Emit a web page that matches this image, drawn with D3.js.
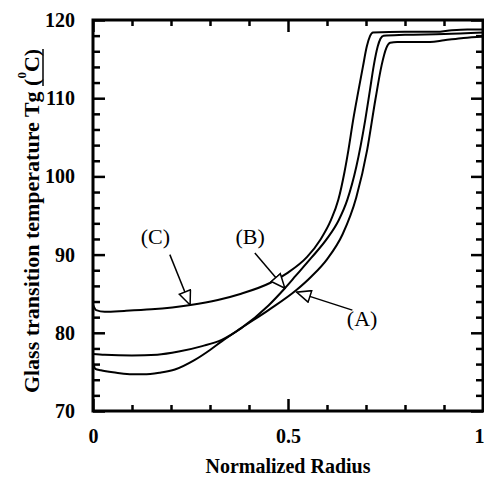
<!DOCTYPE html>
<html>
<head>
<meta charset="utf-8">
<script src="https://cdn.jsdelivr.net/npm/d3@7"></script>
<style>
  body { margin: 0; background: #fff; }
  text { font-family: "Liberation Serif", "Times New Roman", serif; font-weight: bold; }
</style>
</head>
<body>
<div id="chart"></div>
<script>
// curve (A)
var radiusA = [0, 0.006, 0.02, 0.06, 0.1, 0.13, 0.17, 0.21, 0.26, 0.3, 0.33, 0.38, 0.45, 0.52, 0.56, 0.6, 0.64, 0.675, 0.703, 0.724, 0.74, 0.752, 0.762, 0.78, 0.864, 0.9, 0.95, 1.0];
var tgA = [76.2, 75.4, 75.2, 74.9, 74.7, 74.7, 74.9, 75.3, 76.5, 77.8, 78.9, 80.6, 82.9, 85.4, 87.2, 89.4, 92.6, 97.3, 103.4, 109.8, 114.2, 116.4, 117.1, 117.2, 117.2, 117.4, 117.7, 117.9];
// curve (B)
var radiusB = [0, 0.03, 0.1, 0.165, 0.22, 0.28, 0.33, 0.38, 0.45, 0.492, 0.52, 0.56, 0.601, 0.63, 0.652, 0.675, 0.698, 0.71, 0.72, 0.73, 0.737, 0.745, 0.8, 0.9, 1.0];
var tgB = [77.3, 77.2, 77.1, 77.2, 77.6, 78.3, 79.1, 80.6, 83.5, 85.7, 87.3, 89.6, 92.1, 94.4, 97.0, 101.2, 107.2, 111.0, 114.2, 116.6, 117.6, 118.0, 118.1, 118.2, 118.4];
// curve (C)
var radiusC = [0, 0.008, 0.03, 0.08, 0.15, 0.25, 0.32, 0.38, 0.455, 0.5, 0.549, 0.583, 0.61, 0.629, 0.645, 0.655, 0.667, 0.68, 0.692, 0.702, 0.71, 0.718, 0.8, 0.88, 0.92, 0.96, 1.0];
var tgC = [83.6, 82.9, 82.7, 82.8, 83.0, 83.56, 84.2, 85.0, 86.4, 87.7, 89.7, 91.9, 94.4, 97.0, 100.6, 103.4, 107.2, 110.8, 114.0, 116.6, 117.9, 118.4, 118.5, 118.5, 118.7, 118.8, 118.8];

var xTickValues = [0, 0.5, 1];
var xTickLabels = ["0", "0.5", "1"];
var xMinorTicks = [0.1, 0.2, 0.3, 0.4, 0.6, 0.7, 0.8, 0.9];
var yTickValues = [70, 80, 90, 100, 110, 120];
var yMinorTicks = [72, 74, 76, 78, 82, 84, 86, 88, 92, 94, 96, 98, 102, 104, 106, 108, 112, 114, 116, 118];

// labels with arrows: label position, arrow tail, arrow tip (data units)
var labelNames = ["(C)", "(B)", "(A)"];
var labelAt = [[0.16, 92.4], [0.403, 92.4], [0.69, 81.9]];
var arrowFrom = [[0.197, 90.0], [0.415, 90.2], [0.665, 82.9]];
var arrowTo = [[0.249, 83.56], [0.492, 85.7], [0.522, 85.2]];

var width = 484;
var height = 477;
var margin = { top: 20, right: 1, bottom: 66, left: 93 };

var svg = d3.select("#chart")
    .append("svg")
    .attr("width", width)
    .attr("height", height);

var x = d3.scaleLinear().domain([0, 1]).range([margin.left, width - margin.right]);
var y = d3.scaleLinear().domain([70, 120]).range([height - margin.bottom, margin.top]);

function styleAxis(g) {
    g.select(".domain").remove();
    g.selectAll("line").attr("stroke", "#000").attr("stroke-width", 2.5);
    g.selectAll("text").style("font-size", "20px").attr("fill", "#000");
}

// bottom axis, major + minor
svg.append("g")
    .attr("transform", "translate(0," + y(70) + ")")
    .call(d3.axisBottom(x).tickValues(xTickValues).tickSize(-12).tickPadding(18)
        .tickFormat(function(d, i) { return xTickLabels[i]; }))
    .call(styleAxis)
    .selectAll("text")
    .attr("text-anchor", function(d) { return d === 1 ? "end" : "middle"; })
    .attr("dx", function(d) { return d === 1 ? 1 : 0; });
svg.append("g")
    .attr("transform", "translate(0," + y(70) + ")")
    .call(d3.axisBottom(x).tickValues(xMinorTicks).tickSize(-6).tickFormat(""))
    .call(styleAxis);
// top axis mirror
svg.append("g")
    .attr("transform", "translate(0," + y(120) + ")")
    .call(d3.axisTop(x).tickValues(xTickValues).tickSize(-12).tickFormat(""))
    .call(styleAxis);
svg.append("g")
    .attr("transform", "translate(0," + y(120) + ")")
    .call(d3.axisTop(x).tickValues(xMinorTicks).tickSize(-6).tickFormat(""))
    .call(styleAxis);

// left axis
svg.append("g")
    .attr("transform", "translate(" + x(0) + ",0)")
    .call(d3.axisLeft(y).tickValues(yTickValues).tickSize(-12).tickPadding(18))
    .call(styleAxis);
svg.append("g")
    .attr("transform", "translate(" + x(0) + ",0)")
    .call(d3.axisLeft(y).tickValues(yMinorTicks).tickSize(-7).tickFormat(""))
    .call(styleAxis);
// right axis mirror
svg.append("g")
    .attr("transform", "translate(" + x(1) + ",0)")
    .call(d3.axisRight(y).tickValues(yTickValues).tickSize(-12).tickFormat(""))
    .call(styleAxis);
svg.append("g")
    .attr("transform", "translate(" + x(1) + ",0)")
    .call(d3.axisRight(y).tickValues(yMinorTicks).tickSize(-7).tickFormat(""))
    .call(styleAxis);

// frame
svg.append("rect")
    .attr("x", x(0))
    .attr("y", y(120))
    .attr("width", x(1) - x(0))
    .attr("height", y(70) - y(120))
    .attr("fill", "none")
    .attr("stroke", "#000")
    .attr("stroke-width", 3);

// curves
var line = d3.line()
    .x(function(d) { return x(d[0]); })
    .y(function(d) { return y(d[1]); })
    .curve(d3.curveMonotoneX);

var series = [d3.zip(radiusA, tgA), d3.zip(radiusB, tgB), d3.zip(radiusC, tgC)];
svg.selectAll(".curve")
    .data(series)
    .enter()
    .append("path")
    .attr("class", "curve")
    .attr("d", line)
    .attr("fill", "none")
    .attr("stroke", "#000")
    .attr("stroke-width", 2);

// arrows with hollow heads
svg.append("defs").append("marker")
    .attr("id", "head")
    .attr("viewBox", "0 0 16 14")
    .attr("refX", 15)
    .attr("refY", 7)
    .attr("markerWidth", 16)
    .attr("markerHeight", 14)
    .attr("markerUnits", "userSpaceOnUse")
    .attr("orient", "auto")
    .append("path")
    .attr("d", "M1,1 L15,7 L1,13 Z")
    .attr("fill", "#fff")
    .attr("stroke", "#000")
    .attr("stroke-width", 1.5);

svg.selectAll(".arrow")
    .data(labelNames)
    .enter()
    .append("line")
    .attr("class", "arrow")
    .attr("x1", function(d, i) { return x(arrowFrom[i][0]); })
    .attr("y1", function(d, i) { return y(arrowFrom[i][1]); })
    .attr("x2", function(d, i) { return x(arrowTo[i][0]); })
    .attr("y2", function(d, i) { return y(arrowTo[i][1]); })
    .attr("stroke", "#000")
    .attr("stroke-width", 1.5)
    .attr("marker-end", "url(#head)");

svg.selectAll(".lbl")
    .data(labelNames)
    .enter()
    .append("text")
    .attr("class", "lbl")
    .attr("x", function(d, i) { return x(labelAt[i][0]); })
    .attr("y", function(d, i) { return y(labelAt[i][1]); })
    .attr("text-anchor", "middle")
    .attr("dy", "0.35em")
    .style("font-size", "22px")
    .style("font-weight", "normal")
    .text(function(d) { return d; });

// axis titles
svg.append("text")
    .attr("x", (x(0) + x(1)) / 2)
    .attr("y", 473)
    .attr("text-anchor", "middle")
    .style("font-size", "20px")
    .text("Normalized Radius");

var titleG = svg.append("g")
    .attr("transform", "translate(39,221) rotate(-90)");
var yTitle = titleG.append("text")
    .attr("text-anchor", "middle")
    .style("font-size", "22px");
yTitle.append("tspan").text("Glass transition temperature Tg ");
var unitStart = yTitle.append("tspan").text("(");
yTitle.append("tspan").attr("dy", -13).style("font-size", "13px").text("0");
var unitEnd = yTitle.append("tspan").attr("dy", 13).text("C)");

// underline below the unit
var u0 = unitStart.node().getStartPositionOfChar(0).x;
var u1 = unitEnd.node().getEndPositionOfChar(1).x;
titleG.append("line")
    .attr("x1", u0)
    .attr("x2", u1)
    .attr("y1", 4)
    .attr("y2", 4)
    .attr("stroke", "#000")
    .attr("stroke-width", 1.5);
</script>
</body>
</html>
